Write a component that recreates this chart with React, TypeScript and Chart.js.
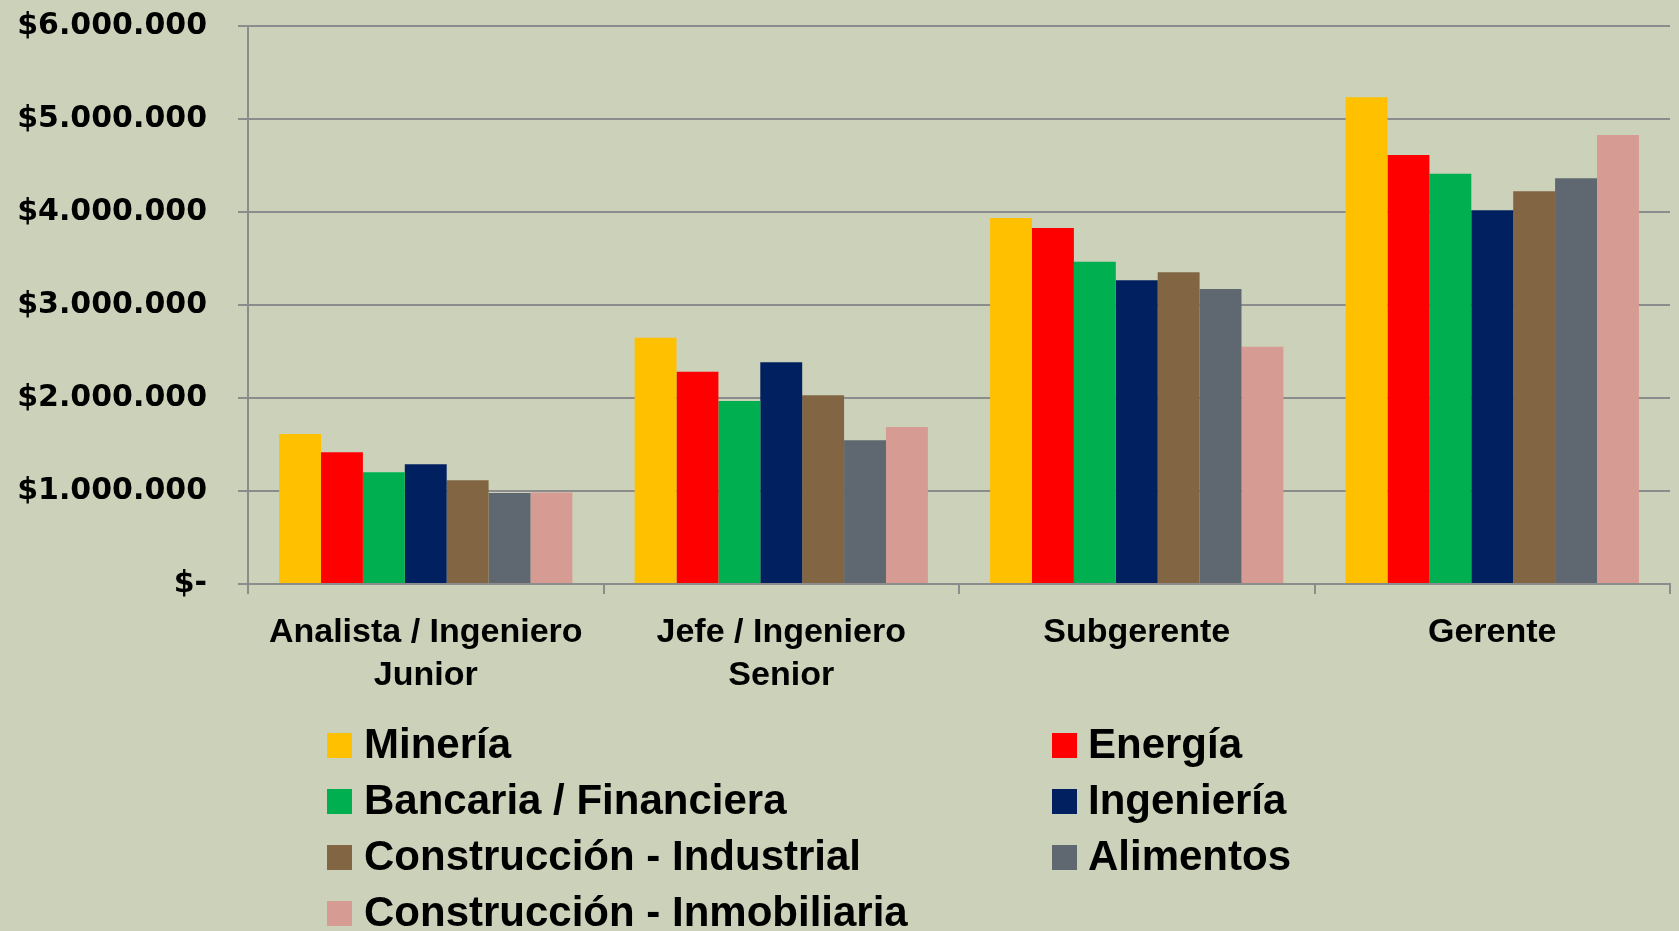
import React, { useEffect, useRef } from "react";
import { Chart, registerables } from "chart.js";

Chart.register(...registerables);

const categories: string[][] = [
  ["Analista / Ingeniero", "Junior"],
  ["Jefe / Ingeniero", "Senior"],
  ["Subgerente"],
  ["Gerente"],
];

const seriesNames = [
  "Minería",
  "Energía",
  "Bancaria / Financiera",
  "Ingeniería",
  "Construcción - Industrial",
  "Alimentos",
  "Construcción - Inmobiliaria",
];

const mineria = [1613000, 2649000, 3935000, 5233000];
const energia = [1416000, 2283000, 3828000, 4613000];
const bancaria = [1201000, 1968000, 3466000, 4412000];
const ingenieria = [1287000, 2384000, 3265000, 4018000];
const construccionIndustrial = [1115000, 2029000, 3351000, 4222000];
const alimentos = [978000, 1545000, 3172000, 4362000];
const construccionInmobiliaria = [984000, 1688000, 2552000, 4828000];

const seriesValues = [
  mineria,
  energia,
  bancaria,
  ingenieria,
  construccionIndustrial,
  alimentos,
  construccionInmobiliaria,
];

const seriesColors = [
  "#FFC000",
  "#FF0000",
  "#00B050",
  "#002060",
  "#826644",
  "#5F6770",
  "#D69B93",
];

const yTicks = [0, 1000000, 2000000, 3000000, 4000000, 5000000, 6000000];

const BG = "#CCD1B9";
const GRID = "#8C8C8C";

function formatMoney(v: number): string {
  if (v === 0) return "$-";
  const s = Math.round(v).toString();
  return "$" + s.replace(/\B(?=(\d{3})+(?!\d))/g, ".");
}

const bgPlugin = {
  id: "bgFill",
  beforeDraw(chart: any) {
    const { ctx, width, height } = chart;
    ctx.save();
    ctx.fillStyle = BG;
    ctx.fillRect(0, 0, width, height);
    ctx.restore();
  },
};

const legendPlugin = {
  id: "gridLegend",
  afterDraw(chart: any) {
    const { ctx } = chart;
    const colX = [327, 1052];
    const textX = [364, 1088];
    const rowTop0 = 733;
    const rowGap = 56;
    const box = 25;
    ctx.save();
    ctx.font = "bold 42px 'Liberation Sans', Arial, sans-serif";
    ctx.textBaseline = "alphabetic";
    ctx.textAlign = "left";
    chart.data.datasets.forEach((ds: any, i: number) => {
      const col = i % 2;
      const row = Math.floor(i / 2);
      const top = rowTop0 + row * rowGap;
      ctx.fillStyle = ds.backgroundColor;
      ctx.fillRect(colX[col], top, box, box);
      ctx.fillStyle = "#000000";
      ctx.fillText(ds.label, textX[col], top + box);
    });
    ctx.restore();
  },
};

export default function App() {
  const canvasRef = useRef<HTMLCanvasElement | null>(null);

  useEffect(() => {
    document.body.style.margin = "0";
    document.body.style.background = BG;
    const canvas = canvasRef.current;
    if (!canvas) return;
    const chart = new Chart(canvas, {
      type: "bar",
      data: {
        labels: categories as any,
        datasets: seriesNames.map((name, i) => ({
          label: name,
          data: seriesValues[i],
          backgroundColor: seriesColors[i],
          borderWidth: 0,
          categoryPercentage: 0.825,
          barPercentage: 1.0,
        })),
      },
      options: {
        animation: false,
        responsive: false,
        maintainAspectRatio: false,
        layout: { padding: { top: 26, right: 9, left: 0, bottom: 0 } },
        plugins: {
          legend: { display: false },
          tooltip: { enabled: false },
          title: { display: false },
        },
        scales: {
          x: {
            grid: {
              offset: true,
              drawOnChartArea: false,
              drawTicks: true,
              tickLength: 10,
              color: GRID,
              lineWidth: 2,
            },
            border: { display: true, color: GRID, width: 2 },
            ticks: {
              color: "#000000",
              font: { family: "'Liberation Sans', Arial, sans-serif", size: 34, weight: "bold", lineHeight: 1.27 },
              padding: 17,
              maxRotation: 0,
              autoSkip: false,
            },
            afterFit(scale: any) {
              scale.height = 931 - 584;
              scale.paddingTop = 0;
              scale.paddingBottom = 0;
            },
          },
          y: {
            min: 0,
            max: 6000000,
            afterBuildTicks(scale: any) {
              scale.ticks = yTicks.map((v) => ({ value: v }));
            },
            grid: {
              color: GRID,
              lineWidth: 2,
              tickLength: 10,
              drawTicks: true,
            },
            border: { display: true, color: GRID, width: 2 },
            ticks: {
              color: "#000000",
              font: { family: "'DejaVu Sans', Verdana, sans-serif", size: 30, weight: "bold" },
              padding: 31,
              callback: (v: any) => formatMoney(Number(v)),
            },
            afterFit(scale: any) {
              scale.width = 248;
              scale.paddingTop = 0;
              scale.paddingBottom = 0;
            },
          },
        },
      },
      plugins: [bgPlugin, legendPlugin],
    });
    return () => chart.destroy();
  }, []);

  return (
    <div style={{ width: 1679, height: 931, background: BG }}>
      <canvas ref={canvasRef} width={1679} height={931} style={{ display: "block", width: 1679, height: 931 }} />
    </div>
  );
}
